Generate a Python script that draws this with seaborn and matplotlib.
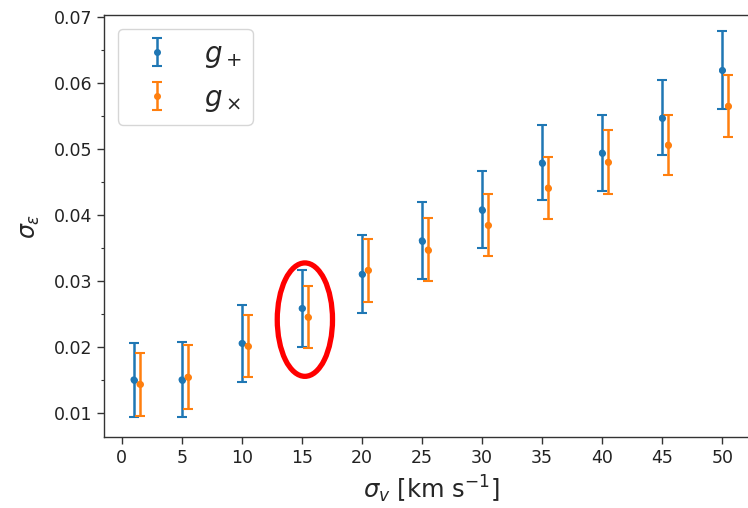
import numpy as np
import pandas as pd
import matplotlib
matplotlib.use("Agg")
import matplotlib.pyplot as plt
from matplotlib.patches import Ellipse
from matplotlib.ticker import AutoMinorLocator, MultipleLocator
import seaborn as sns

# velocity dispersion values (km/s)
sigma_v = [1, 5, 10, 15, 20, 25, 30, 35, 40, 45, 50]
x_offset = 0.5

# shape-noise estimate for the g+ component
g_plus = [0.0150, 0.0150, 0.0205, 0.0258, 0.0310, 0.0361, 0.0408, 0.0479, 0.0494, 0.0547, 0.0619]
g_plus_err = [0.0056, 0.0057, 0.0058, 0.0058, 0.0059, 0.0058, 0.0058, 0.0057, 0.0058, 0.0057, 0.0059]

# shape-noise estimate for the gx component
g_cross = [0.0143, 0.0154, 0.0201, 0.0245, 0.0316, 0.0347, 0.0384, 0.0441, 0.0480, 0.0506, 0.0565]
g_cross_err = [0.0048, 0.0049, 0.0047, 0.0047, 0.0048, 0.0048, 0.0047, 0.0047, 0.0049, 0.0046, 0.0047]

x_ticks = [0, 5, 10, 15, 20, 25, 30, 35, 40, 45, 50]

sns.set_style("ticks")
plt.rcParams["font.family"] = ["DejaVu Sans"]
plt.rcParams["mathtext.fontset"] = "dejavusans"

df = pd.DataFrame({
    "sigma_v": sigma_v + [v + x_offset for v in sigma_v],
    "sigma_e": g_plus + g_cross,
    "err": g_plus_err + g_cross_err,
    "comp": ["plus"] * len(sigma_v) + ["cross"] * len(sigma_v),
})

fig = plt.figure(figsize=(7.48, 5.08), dpi=100)
ax = fig.add_axes([104 / 748, 71 / 508, 654 / 748, 422 / 508])

colors = {"plus": "#1f77b4", "cross": "#ff7f0e"}
labels = {"plus": r"$g_+$", "cross": r"$g_\times$"}
for comp in ["plus", "cross"]:
    sub = df[df["comp"] == comp]
    ax.errorbar(sub["sigma_v"], sub["sigma_e"], yerr=sub["err"], fmt="o",
                color=colors[comp], ms=4, elinewidth=1.8, capsize=3.5,
                capthick=1.5, label=labels[comp])

sns.scatterplot(data=df, x="sigma_v", y="sigma_e", hue="comp",
                palette=colors, s=22, edgecolor="none", legend=False,
                ax=ax, zorder=3)

# highlight the 15 km/s pair
ax.add_patch(Ellipse((15.25, 0.0241), width=4.6, height=0.0172,
                     fill=False, edgecolor="red", lw=3.8, zorder=5))

ax.set_xlim(-1.475, 52.975)
ax.set_ylim(0.0063, 0.0703)
ax.set_xticks(x_ticks)
ax.yaxis.set_major_locator(MultipleLocator(0.01))
ax.yaxis.set_minor_locator(AutoMinorLocator(2))
ax.tick_params(axis="both", which="major", labelsize=12.5, length=5, width=1,
               direction="out", color="#333333", labelcolor="#222222")
ax.tick_params(axis="y", which="minor", length=2.5, width=0.8, color="#333333")
for side in ["left", "bottom", "top", "right"]:
    ax.spines[side].set_visible(True)
    ax.spines[side].set_color("#333333")
    ax.spines[side].set_linewidth(1.0)

ax.set_xlabel(r"$\sigma_v$ [km s$^{-1}$]", fontsize=17.5, labelpad=5)
ax.set_ylabel(r"$\sigma_\varepsilon$", fontsize=17, labelpad=8)

ax.legend(loc="upper left", fontsize=20, frameon=True, framealpha=0.8,
          edgecolor="#cccccc", borderpad=0.4, handletextpad=0.7,
          bbox_to_anchor=(0.0, 1.0))

fig.savefig("out.png", dpi=100)
